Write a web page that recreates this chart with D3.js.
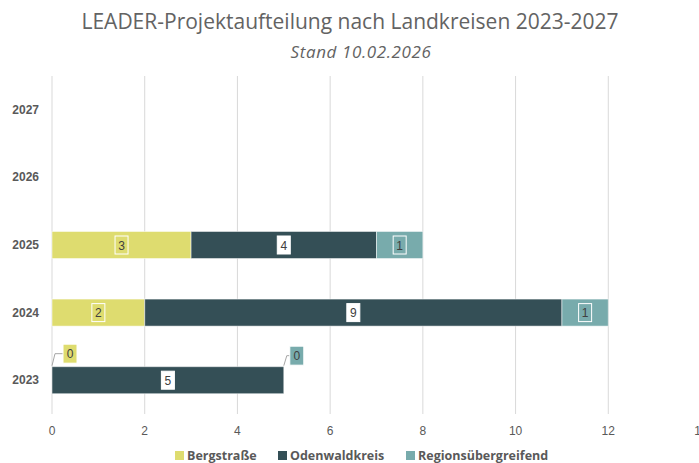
<!DOCTYPE html>
<html><head><meta charset="utf-8">
<script src="https://cdn.jsdelivr.net/npm/d3@7"></script>
<style>body{margin:0;background:#fff}svg{display:block}</style>
</head><body>
<svg id="c" width="699" height="463"></svg>
<script>
const categories = ["2027","2026","2025","2024","2023"];
const seriesNames = ["Bergstraße","Odenwaldkreis","Regionsübergreifend"];
const bergstrasse = [null,null,3,2,0];
const odenwaldkreis = [null,null,4,9,5];
const regionsuebergreifend = [null,null,1,1,0];
const xTicks = [0,2,4,6,8,10,12,14];
const colors = ["#DEDC6F","#344F56","#78ABAC"];

const svg = d3.select("#c");
const x = d3.scaleLinear().domain([0,14]).range([52,701]);
const y = d3.scaleBand().domain(categories).range([76,414]).paddingInner(0.6).paddingOuter(0.3);

svg.append("text").attr("x",350).attr("y",29).attr("text-anchor","middle")
  .attr("font-family","'Open Sans',sans-serif").attr("font-size",21).attr("fill","#636363")
  .text("LEADER-Projektaufteilung nach Landkreisen 2023-2027");
svg.append("text").attr("x",361).attr("y",58).attr("text-anchor","middle")
  .attr("font-family","'Open Sans',sans-serif").attr("font-style","italic").attr("font-size",17).attr("letter-spacing",0.6).attr("fill","#636363")
  .text("Stand 10.02.2026");

// grid
svg.append("g").selectAll("line").data(xTicks).join("line")
  .attr("x1",d=>x(d)).attr("x2",d=>x(d)).attr("y1",76).attr("y2",414)
  .attr("stroke","#D9D9D9").attr("stroke-width",1);

// x tick labels
svg.append("g").selectAll("text").data(xTicks).join("text")
  .attr("x",d=>x(d)).attr("y",435).attr("text-anchor","middle")
  .attr("font-family","'Liberation Sans',Arial,sans-serif").attr("font-size",12).attr("fill","#595959")
  .text(d=>d);

// y labels
svg.append("g").selectAll("text").data(categories).join("text")
  .attr("x",39).attr("y",d=>y(d)+y.bandwidth()/2+4).attr("text-anchor","end")
  .attr("font-family","'Liberation Sans',Arial,sans-serif").attr("font-weight","bold").attr("font-size",12).attr("fill","#595959")
  .text(d=>d);

const seriesVals = [bergstrasse, odenwaldkreis, regionsuebergreifend];
const stacked = [];
categories.forEach((c,i)=>{
  let acc = 0;
  seriesVals.forEach((vals,s)=>{
    const v = vals[i];
    if (v===null) return;
    stacked.push({cat:c, s, v, x0:acc, x1:acc+v});
    acc += v;
  });
});

const bars = svg.append("g");
bars.selectAll("rect").data(stacked.filter(d=>d.v>0)).join("rect")
  .attr("x",d=>x(d.x0)).attr("width",d=>x(d.x1)-x(d.x0))
  .attr("y",d=>y(d.cat)).attr("height",y.bandwidth())
  .attr("fill",d=>colors[d.s]).attr("stroke","#fff").attr("stroke-opacity",0.5).attr("stroke-width",1);

// labels
const lab = svg.append("g").attr("font-family","'Liberation Sans',Arial,sans-serif").attr("font-size",12);
stacked.forEach(d=>{
  const cy = y(d.cat)+y.bandwidth()/2;
  if (d.v>0){
    const cx = (x(d.x0)+x(d.x1))/2;
    const w=13,h=18;
    lab.append("rect").attr("x",cx-w/2).attr("y",cy-h/2).attr("width",w).attr("height",h)
      .attr("fill", d.s===1 ? "#fff" : "none").attr("stroke","#fff").attr("stroke-width",1);
    lab.append("text").attr("x",cx).attr("y",cy+4.5).attr("text-anchor","middle")
      .attr("fill","#404040").text(d.v);
  } else {
    // zero label with leader line
    const bx = x(d.x0);
    const top = y(d.cat);
    const rx = bx + (d.s===2 ? 6 : 11), ly = top-13 + (d.s===2 ? 2 : 0);
    lab.append("path").attr("d",`M${bx},${top-1}L${bx+3},${ly}L${rx},${ly}`)
      .attr("fill","none").attr("stroke","#A6A6A6").attr("stroke-width",1);
    lab.append("rect").attr("x",rx).attr("y",ly-9.5).attr("width",14).attr("height",19)
      .attr("fill",colors[d.s]).attr("stroke","#fff").attr("stroke-width",1);
    lab.append("text").attr("x",rx+7).attr("y",ly+4.5).attr("text-anchor","middle")
      .attr("fill","#404040").text("0");
  }
});

// legend
const legX = [175,278,406];
const leg = svg.append("g");
seriesNames.forEach((n,i)=>{
  leg.append("rect").attr("x",legX[i]).attr("y",451).attr("width",9).attr("height",9).attr("fill",colors[i]);
  leg.append("text").attr("x",legX[i]+12).attr("y",460)
    .attr("font-family","'Open Sans',sans-serif").attr("font-weight","bold").attr("font-size",12.5).attr("fill","#595959")
    .text(n);
});
</script>
</body></html>
